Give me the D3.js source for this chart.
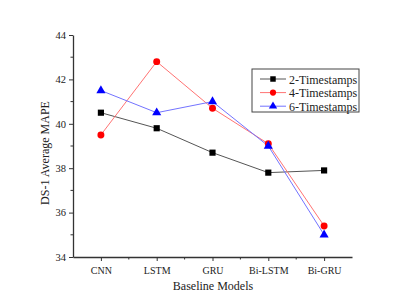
<!DOCTYPE html>
<html>
<head>
<meta charset="utf-8">
<script src="https://cdn.jsdelivr.net/npm/d3@7"></script>
<style>
  body { margin: 0; background: #fff; }
  svg text { font-family: "Liberation Serif", "Times New Roman", serif; fill: #222; }
</style>
</head>
<body>
<svg id="chart" width="410" height="308"></svg>
<script>
// chart data
var models = ["CNN", "LSTM", "GRU", "Bi-LSTM", "Bi-GRU"];
var seriesNames = ["2-Timestamps", "4-Timestamps", "6-Timestamps"];
var ts2 = [40.5, 39.8, 38.7, 37.8, 37.9];
var ts4 = [39.5, 42.8, 40.7, 39.1, 35.4];
var ts6 = [41.5, 40.5, 41.0, 39.0, 35.0];
var yTicks = [34, 36, 38, 40, 42, 44];

var series = [
  {name: seriesNames[0], values: ts2, line: "#555555", fill: "#000000", shape: d3.symbolSquare},
  {name: seriesNames[1], values: ts4, line: "#ff7373", fill: "#ff0000", shape: d3.symbolCircle},
  {name: seriesNames[2], values: ts6, line: "#7373ff", fill: "#0000ff", shape: d3.symbolTriangle}
];

var svg = d3.select("#chart");
// plot box (window.top is taken, so prefixed names)
var pLeft = 73, pRight = 352, pTop = 35, pBottom = 257;

// categories sit at 1..5, axis runs half a step past each end
var x = d3.scaleLinear().domain([0.5, 5.5]).range([pLeft, pRight]);
var y = d3.scaleLinear().domain([34, 44]).range([pBottom, pTop]);

// minor ticks first, then the major axes on top
var g = svg.append("g");
d3.range(35, 44, 2).forEach(function(v){
  g.append("line").attr("x1", pLeft).attr("x2", pLeft - 2.5)
    .attr("y1", y(v)).attr("y2", y(v)).attr("stroke", "#333");
});
d3.range(1.5, 5.5, 1).forEach(function(v){
  g.append("line").attr("y1", pBottom).attr("y2", pBottom + 2.5)
    .attr("x1", x(v)).attr("x2", x(v)).attr("stroke", "#333");
});

var yAxis = svg.append("g")
  .attr("transform", "translate(" + pLeft + ",0)")
  .call(d3.axisLeft(y).tickValues(yTicks).tickSize(4).tickPadding(3).tickSizeOuter(0));
yAxis.selectAll("text").style("font-size", "10.5px");

var xAxis = svg.append("g")
  .attr("transform", "translate(0," + pBottom + ")")
  .call(d3.axisBottom(x).tickValues([1, 2, 3, 4, 5]).tickFormat(function(d){ return models[d - 1]; })
    .tickSize(4).tickPadding(6).tickSizeOuter(0));
xAxis.selectAll("text").style("font-size", "10px");

svg.selectAll(".domain").attr("stroke", "#333").attr("stroke-width", 1.3);
svg.selectAll(".tick line").attr("stroke", "#333");

// axis titles
svg.append("text")
  .attr("x", 213).attr("y", 290)
  .attr("text-anchor", "middle")
  .style("font-size", "12px")
  .text("Baseline Models");
svg.append("text")
  .attr("transform", "translate(49,153) rotate(-90)")
  .attr("text-anchor", "middle")
  .style("font-size", "12px")
  .text("DS-1 Average MAPE");

// lines and markers
var line = d3.line()
  .x(function(d, i){ return x(i + 1); })
  .y(function(d){ return y(d); });

series.forEach(function(s){
  svg.append("path")
    .datum(s.values)
    .attr("d", line)
    .attr("fill", "none")
    .attr("stroke", s.line)
    .attr("stroke-width", 1);
});
series.forEach(function(s){
  svg.selectAll(null)
    .data(s.values)
    .enter().append("path")
    .attr("transform", function(d, i){ return "translate(" + x(i + 1) + "," + y(d) + ")"; })
    .attr("d", d3.symbol().type(s.shape).size(s.shape === d3.symbolTriangle ? 36 : 38))
    .attr("fill", s.fill);
});

// legend
var lg = svg.append("g").attr("transform", "translate(252,69)");
lg.append("rect").attr("width", 107).attr("height", 43)
  .attr("fill", "#fff").attr("stroke", "#444").attr("stroke-width", 1);
series.forEach(function(s, i){
  var yy = 10 + i * 13.6;
  lg.append("line").attr("x1", 8).attr("x2", 34).attr("y1", yy).attr("y2", yy)
    .attr("stroke", s.line).attr("stroke-width", 1);
  lg.append("path").attr("transform", "translate(21," + yy + ")")
    .attr("d", d3.symbol().type(s.shape).size(30)).attr("fill", s.fill);
  lg.append("text").attr("x", 37).attr("y", yy + 4.5)
    .style("font-size", "12px").text(s.name);
});
</script>
</body>
</html>
